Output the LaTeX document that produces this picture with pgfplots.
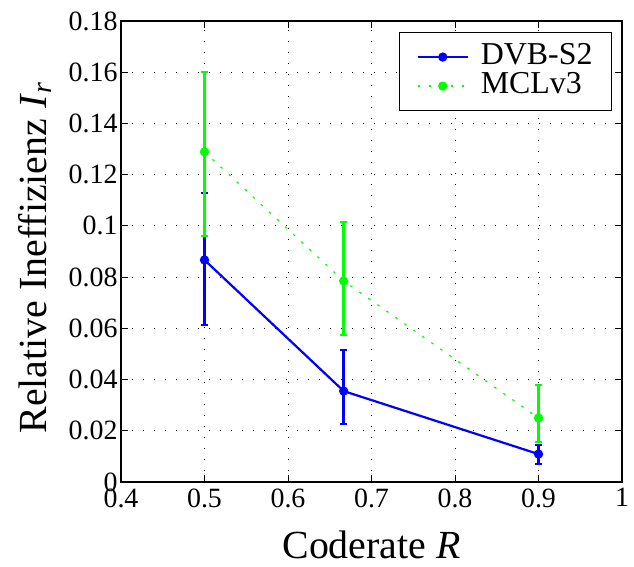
\documentclass[border=0pt]{standalone}
\usepackage{fontspec}
\setmainfont{Liberation Serif}
\usepackage{pgfplots}
\usepackage{pgfplotstable}
\pgfplotsset{compat=1.18}
\pgfplotstableread{
x y ep em
0.5 0.0867 0.0261 0.0254
0.66667 0.0355 0.0160 0.0129
0.9 0.0109 0.0035 0.0039
}\dvb
\pgfplotstableread{
x y ep em
0.5 0.1289 0.0311 0.0328
0.66667 0.0785 0.0230 0.0211
0.9 0.0250 0.0129 0.0094
}\mcl
\definecolor{mblue}{RGB}{0,0,255}
\definecolor{mgreen}{RGB}{0,255,0}
\newcommand{\lf}{\fontsize{28}{32}\selectfont}
\begin{document}
\begin{tikzpicture}
\begin{axis}[
  name=ax,
  scale only axis,
  width=501bp, height=461bp,
  xmin=0.4, xmax=1, ymin=0, ymax=0.18,
  xtick={0.4,0.5,0.6,0.7,0.8,0.9,1},
  ytick={0,0.02,0.04,0.06,0.08,0.1,0.12,0.14,0.16,0.18},
  xticklabels={0.4,0.5,0.6,0.7,0.8,0.9,1},
  yticklabels={0,0.02,0.04,0.06,0.08,0.1,0.12,0.14,0.16,0.18},
  scaled y ticks=false,
  tick align=inside,
  major tick length=7bp,
  tick style={black, line width=0.8bp},
  axis line style={black, line width=1.2bp},
  grid=major,
  major grid style={black, line width=0.8bp, dash pattern=on 0.8bp off 10.2bp},
  tick label style={font=\lf},
  xticklabel style={yshift=-3bp},
  xlabel={Coderate \textit{R}},
  ylabel={Relative Ineffizienz \textit{I}\textsubscript{\textit{r}}},
  label style={font=\fontsize{40}{46}\selectfont},
  xlabel style={at={(axis description cs:0.5,0)}, anchor=base, yshift=-76bp},
  ylabel style={at={(axis description cs:-0.1477,0.486)}, anchor=base, rotate=0},
  legend style={at={(axis description cs:0.980,0.976)}, anchor=north east,
    draw=black, line width=1bp, font=\fontsize{32}{36}\selectfont,
    inner xsep=17bp, inner ysep=10bp, row sep=0bp, column sep=10bp,
    nodes={inner xsep=2bp, inner ysep=0bp, text height=22bp, text depth=7bp},
    cells={anchor=west}},
  legend cell align=left,
  legend image code/.code={\draw[mark repeat=2, mark phase=2, #1] plot coordinates {(0bp,0bp) (25bp,0bp) (50bp,0bp)};},
  clip=false,
]
\addplot[mblue, line width=2.2bp, mark=*, mark size=3.5bp, mark options={solid, fill=mblue},
  error bars/.cd, y dir=both, y explicit,
  error bar style={line width=2.6bp, mblue, solid},
  error mark options={mblue, line width=2bp, mark size=3.5bp, rotate=90}]
  table[x=x, y=y, y error plus=ep, y error minus=em] {\dvb};
\addlegendentry{DVB-S2}
\addplot[mgreen, line width=1.2bp, dash pattern=on 2.5bp off 8.5bp, mark=*, mark size=4bp, mark options={solid, fill=mgreen},
  error bars/.cd, y dir=both, y explicit,
  error bar style={line width=2.6bp, mgreen, solid},
  error mark options={mgreen, line width=2bp, mark size=3.5bp, rotate=90}]
  table[x=x, y=y, y error plus=ep, y error minus=em] {\mcl};
\addlegendentry{MCLv3}
\end{axis}
\path ([shift={(-121bp,-84bp)}]ax.south west) rectangle ([shift={(12bp,21bp)}]ax.north east);
\end{tikzpicture}
\end{document}
